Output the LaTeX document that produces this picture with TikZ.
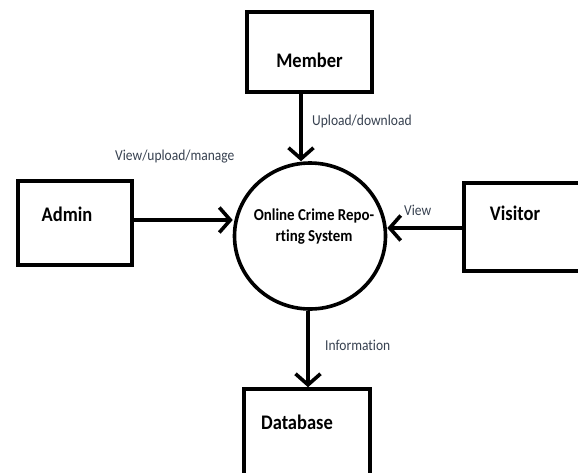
\documentclass[tikz,border=0pt]{standalone}
\usepackage{fontspec}
\setmainfont[Ligatures=NoCommon]{Carlito}
\usepackage{graphicx}
\usetikzlibrary{arrows.meta,shapes.geometric}
\definecolor{lblcol}{RGB}{55,65,80}
\newcommand{\vst}[1]{\scalebox{1}[1.12]{#1}}
\tikzset{
  boxnode/.style={draw, line width=3.6pt, rectangle, inner sep=0pt},
  sysnode/.style={draw, line width=3.6pt, ellipse, inner sep=0pt, minimum width=151pt, minimum height=146pt},
  boxtext/.style={font=\fontsize{18.5}{20}\selectfont\bfseries},
  flowlbl/.style={font=\fontsize{13.5}{15}\selectfont, text=lblcol, inner sep=0pt, anchor=west},
  flow/.style={line width=3.6pt, -{Straight Barb[length=11pt,width=25pt,line width=3.6pt]}}
}
\begin{document}
\begin{tikzpicture}[x=1pt,y=-1pt]
\useasboundingbox (0,0) rectangle (578,472);
\clip (0,0) rectangle (578,472);
\fill[white] (0,0) rectangle (578,472);
\node[boxnode, minimum width=125pt, minimum height=80pt,
  label={[boxtext, yshift=-8pt]center:\vst{Member}}] (member) at (309.5,52) {};
\node[boxnode, minimum width=114pt, minimum height=84pt,
  label={[boxtext, xshift=-8pt, yshift=9pt]center:\vst{Admin}}] (admin) at (75,223) {};
\node[boxnode, minimum width=136pt, minimum height=88pt,
  label={[boxtext, xshift=-17pt, yshift=14pt]center:\vst{Visitor}}] (visitor) at (532,227) {};
\node[boxnode, minimum width=126pt, minimum height=101pt,
  label={[boxtext, xshift=-10pt, yshift=17.5pt]center:\vst{Database}}] (db) at (307,439.5) {};
\node[sysnode, label={[font=\fontsize{14.9}{21}\selectfont\bfseries, align=center, xshift=4pt, yshift=9pt]center:\vst{Online Crime Repo-}\\\vst{rting System}}] (sys) at (310,236) {};
\draw[flow] ([xshift=-8.5pt]member.south) -- ([xshift=-8.5pt]member.south |- sys.north);
\draw[flow] ([yshift=3pt]admin.east) -- ([yshift=3pt]admin.east -| sys.west);
\draw[flow] ([yshift=-1pt]visitor.west) -- ([yshift=-1pt]visitor.west -| sys.east);
\draw[flow] ([xshift=-2pt]sys.south) -- ([xshift=-2pt]sys.south |- db.north);
\node[flowlbl] (l1) at (312,121) {\vst{Upload/download}};
\node[flowlbl] (l2) at (115,157) {\vst{View/upload/manage}};
\node[flowlbl] (l3) at (404,210) {\vst{View}};
\node[flowlbl] (l4) at (325,345) {\vst{Information}};
\end{tikzpicture}
\end{document}
